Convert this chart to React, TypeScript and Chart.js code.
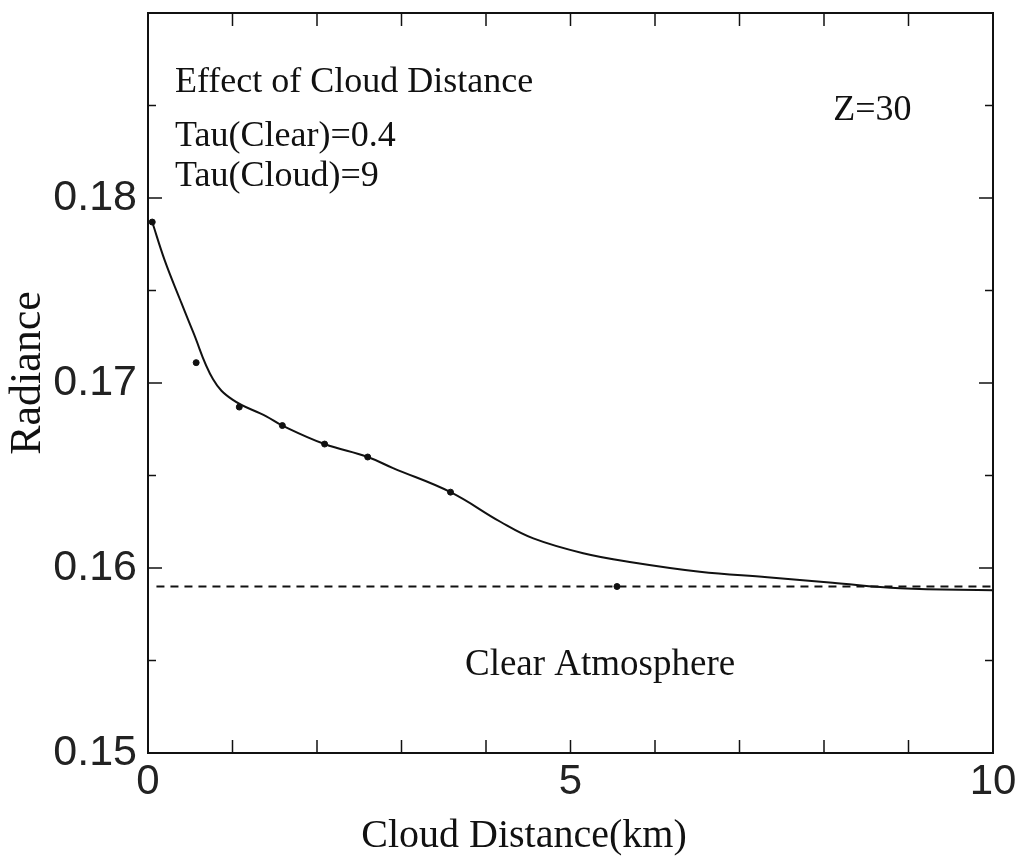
import React, { useEffect, useRef } from "react";
import { Chart, registerables } from "chart.js";

Chart.register(...registerables);

// Sample points (dots)
const pointX = [0.05, 0.57, 1.08, 1.59, 2.09, 2.6, 3.58, 5.55];
const pointY = [0.1787, 0.1711, 0.1687, 0.1677, 0.1667, 0.166, 0.1641, 0.159];

// Smooth fitted curve
const curveX = [0.05, 0.2, 0.38, 0.53, 0.77, 1.0, 1.4, 1.59, 2.09, 2.6, 2.9, 3.58, 4.17, 4.56, 5.15, 5.74, 6.53, 7.33, 8.1, 8.9, 10];
const curveY = [0.1787, 0.1766, 0.1745, 0.1728, 0.1702, 0.1691, 0.1682, 0.1677, 0.1667, 0.166, 0.1654, 0.1641, 0.1625, 0.1616, 0.1608, 0.1603, 0.1598, 0.1595, 0.1592, 0.1589, 0.1588];

// Clear atmosphere reference (dashed)
const clearX = [0.1, 10];
const clearY = [0.159, 0.159];

// Axis ranges and labelled ticks
const xMin = 0, xMax = 10, xStep = 1;
const yMin = 0.15, yMax = 0.19, yStep = 0.005;
const xLabelValues = [0, 5, 10];
const yLabelValues = [0.15, 0.16, 0.17, 0.18];

const xTitle = "Cloud Distance(km)";
const yTitle = "Radiance";
const notes = ["Effect of Cloud Distance", "Tau(Clear)=0.4", "Tau(Cloud)=9"];
const zNote = "Z=30";
const clearNote = "Clear Atmosphere";

const near = (a: number, b: number) => Math.abs(a - b) < 1e-6;

const framePlugin = {
  id: "framePlugin",
  afterDraw(chart: any) {
    const { ctx, chartArea, scales } = chart;
    const { left, right, top, bottom } = chartArea;
    const x = scales.x, y = scales.y;
    const line = (x1: number, y1: number, x2: number, y2: number) => {
      ctx.beginPath();
      ctx.moveTo(x1, y1);
      ctx.lineTo(x2, y2);
      ctx.stroke();
    };
    ctx.save();
    ctx.strokeStyle = "#111";
    ctx.lineWidth = 2;
    ctx.strokeRect(left, top, right - left, bottom - top);
    ctx.lineWidth = 1.5;
    x.ticks.forEach((t: any) => {
      const px = x.getPixelForValue(t.value);
      if (px <= left + 1 || px >= right - 1) return;
      line(px, bottom, px, bottom - 13);
      line(px, top, px, top + 13);
    });
    y.ticks.forEach((t: any) => {
      const py = y.getPixelForValue(t.value);
      if (py <= top + 1 || py >= bottom - 1) return;
      const major = near(t.value * 100, Math.round(t.value * 100));
      const len = major ? 14 : 8;
      line(left, py, left + len, py);
      line(right, py, right - len, py);
    });

    ctx.fillStyle = "#111";
    ctx.textBaseline = "alphabetic";
    ctx.textAlign = "left";
    ctx.font = '36px "Liberation Serif"';
    const nx = x.getPixelForValue(0.32);
    ctx.fillText(notes[0], nx, y.getPixelForValue(0.18573));
    ctx.fillText(notes[1], nx, y.getPixelForValue(0.18281));
    ctx.fillText(notes[2], nx, y.getPixelForValue(0.18065));
    ctx.fillText(zNote, x.getPixelForValue(8.11), y.getPixelForValue(0.18422));
    ctx.textAlign = "center";
    ctx.font = '37px "Liberation Serif"';
    ctx.fillText(clearNote, x.getPixelForValue(5.35), y.getPixelForValue(0.15422));

    // axis titles
    ctx.font = '40px "Liberation Serif"';
    ctx.fillText(xTitle, 524, 847);
    ctx.save();
    ctx.translate(40, 373);
    ctx.rotate(-Math.PI / 2);
    ctx.font = '44px "Liberation Serif"';
    ctx.fillText(yTitle, 0, 0);
    ctx.restore();
    ctx.restore();
  },
};

export default function App() {
  const ref = useRef<HTMLCanvasElement | null>(null);
  useEffect(() => {
    if (!ref.current) return;
    const chart = new Chart(ref.current, {
      type: "scatter",
      data: {
        datasets: [
          {
            type: "line",
            data: curveX.map((v, i) => ({ x: v, y: curveY[i] })),
            borderColor: "#111",
            borderWidth: 2,
            pointRadius: 0,
            tension: 0.4,
            fill: false,
          } as any,
          {
            type: "line",
            data: clearX.map((v, i) => ({ x: v, y: clearY[i] })),
            borderColor: "#111",
            borderWidth: 2,
            borderDash: [8, 6],
            pointRadius: 0,
            fill: false,
          } as any,
          {
            type: "scatter",
            data: pointX.map((v, i) => ({ x: v, y: pointY[i] })),
            backgroundColor: "#111",
            borderColor: "#111",
            pointRadius: 3,
          } as any,
        ],
      },
      options: {
        animation: false,
        responsive: true,
        maintainAspectRatio: false,
        layout: { padding: { top: 13, right: 33, left: 0, bottom: 0 } },
        plugins: { legend: { display: false }, tooltip: { enabled: false }, title: { display: false } },
        scales: {
          x: {
            type: "linear",
            min: xMin,
            max: xMax,
            grid: { display: false, drawTicks: false },
            border: { display: false },
            ticks: {
              stepSize: xStep,
              padding: 4,
              color: "#222",
              font: { family: '"Liberation Sans"', size: 42 },
              autoSkip: false,
              maxRotation: 0,
              callback: (v: any) => (xLabelValues.some((l) => near(l, Number(v))) ? String(v) : ""),
            },
            afterFit: (s: any) => {
              s.height = 115;
              s.paddingLeft = 0;
              s.paddingRight = 0;
            },
          },
          y: {
            type: "linear",
            min: yMin,
            max: yMax,
            grid: { display: false, drawTicks: false },
            border: { display: false },
            ticks: {
              stepSize: yStep,
              padding: 11,
              color: "#222",
              font: { family: '"Liberation Sans"', size: 43 },
              autoSkip: false,
              callback: (v: any) => {
                const f = yLabelValues.find((l) => near(l, Number(v)));
                return f !== undefined ? f.toFixed(2) : "";
              },
            },
            afterFit: (s: any) => {
              s.width = 148;
              s.paddingTop = 0;
              s.paddingBottom = 0;
            },
          },
        },
      },
      plugins: [framePlugin],
    });
    return () => chart.destroy();
  }, []);
  return (
    <div style={{ position: "fixed", left: 0, top: 0, width: 1026, height: 868, background: "#fff" }}>
      <canvas ref={ref} />
    </div>
  );
}
